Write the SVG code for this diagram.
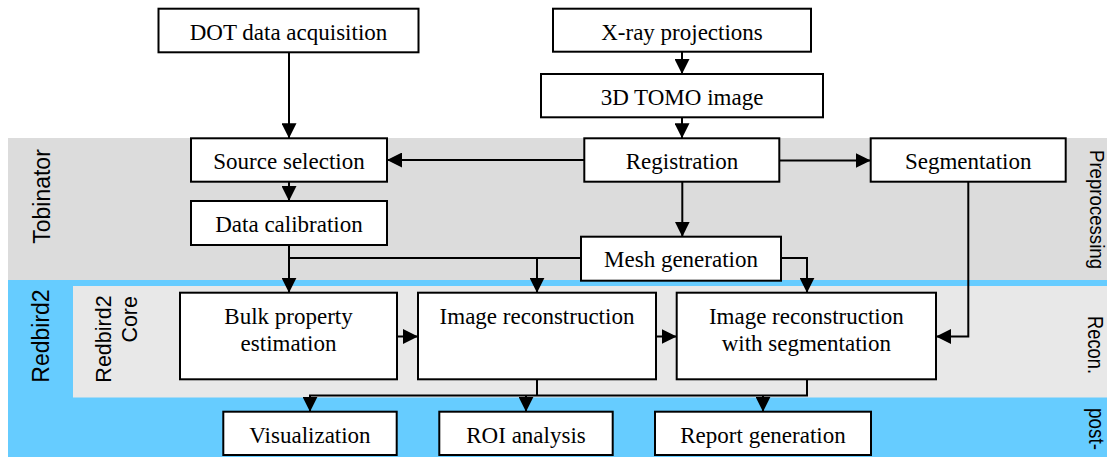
<svg xmlns="http://www.w3.org/2000/svg" width="1107" height="457" viewBox="0 0 1107 457">
<style>
.box{fill:#fff;stroke:#000;stroke-width:2}
.t{font-family:"Liberation Serif","Times New Roman",serif;font-size:23px;fill:#000;text-anchor:middle}
.lab{font-family:"Liberation Sans",Arial,sans-serif;fill:#000}
.c{fill:none;stroke:#000;stroke-width:2}
</style>
<defs>
<marker id="ah" viewBox="0 0 10 10" refX="10" refY="5" markerWidth="7.5" markerHeight="7.5" markerUnits="strokeWidth" orient="auto">
<path d="M0,0 L10,5 L0,10 Z" fill="#000"/>
</marker>
</defs>
<g id="bands">
<rect x="8" y="138" width="1099" height="142" fill="#dcdcdc"/>
<rect x="8" y="280" width="1099" height="177" fill="#66ccff"/>
<rect x="73" y="286" width="1034" height="111.5" fill="#e8e8e8"/>
</g>
<g id="band-labels" class="lab">
<text transform="translate(49.5,196.5) rotate(-90)" font-size="23" text-anchor="middle">Tobinator</text>
<text transform="translate(49.3,336) rotate(-90)" font-size="23" text-anchor="middle">Redbird2</text>
<text transform="translate(111,339) rotate(-90)" font-size="21.5" text-anchor="middle">Redbird2</text>
<text transform="translate(137,296) rotate(-90)" font-size="21.5" text-anchor="end">Core</text>
<text transform="translate(1090,150) rotate(90)" font-size="21" textLength="119" lengthAdjust="spacingAndGlyphs">Preprocessing</text>
<text transform="translate(1088,316) rotate(90)" font-size="22" textLength="58" lengthAdjust="spacingAndGlyphs">Recon.</text>
<text transform="translate(1089,408) rotate(90)" font-size="22" textLength="42" lengthAdjust="spacingAndGlyphs">post-</text>
</g>
<g id="connectors">
<path class="c" d="M289,52.3 V138.3" marker-end="url(#ah)"/>
<path class="c" d="M682,51.7 V74" marker-end="url(#ah)"/>
<path class="c" d="M682,117.3 V138.3" marker-end="url(#ah)"/>
<path class="c" d="M584.3,160 H387" marker-end="url(#ah)"/>
<path class="c" d="M779.3,160.5 H870.7" marker-end="url(#ah)"/>
<path class="c" d="M682.3,181.7 V236.7" marker-end="url(#ah)"/>
<path class="c" d="M289,181.7 V201" marker-end="url(#ah)"/>
<path class="c" d="M289,245 V292.7" marker-end="url(#ah)"/>
<path class="c" d="M581,258 H289"/>
<path class="c" d="M537,258 V292.7" marker-end="url(#ah)"/>
<path class="c" d="M781,258 H807 V292.7" marker-end="url(#ah)"/>
<path class="c" d="M968.3,181.7 V336.5 H936" marker-end="url(#ah)"/>
<path class="c" d="M397,336.5 H418" marker-end="url(#ah)"/>
<path class="c" d="M656,336.5 H676.7" marker-end="url(#ah)"/>
<path class="c" d="M537,379.3 V395.5"/>
<path class="c" d="M807,379.3 V395.5 H310 V411.7" marker-end="url(#ah)"/>
<path class="c" d="M526,395.5 V411.7" marker-end="url(#ah)"/>
<path class="c" d="M763,395.5 V411.7" marker-end="url(#ah)"/>
</g>
<g id="dot"><rect class="box" x="158.5" y="8.7" width="260" height="43.6"/><text class="t" x="288.5" y="40">DOT data acquisition</text></g>
<g id="xray"><rect class="box" x="553" y="8.7" width="258" height="43"/><text class="t" x="682" y="39.5">X-ray projections</text></g>
<g id="tomo"><rect class="box" x="541" y="74" width="282" height="43.3"/><text class="t" x="682" y="104.5">3D TOMO image</text></g>
<g id="source"><rect class="box" x="191" y="138.3" width="196" height="43.4"/><text class="t" x="289" y="168.5">Source selection</text></g>
<g id="registration"><rect class="box" x="584.3" y="138.3" width="195" height="43.4"/><text class="t" x="682" y="168.5">Registration</text></g>
<g id="segmentation"><rect class="box" x="870.7" y="138.3" width="195" height="43.4"/><text class="t" x="968.2" y="168.5">Segmentation</text></g>
<g id="calibration"><rect class="box" x="191" y="201" width="196" height="44"/><text class="t" x="289" y="232">Data calibration</text></g>
<g id="mesh"><rect class="box" x="581" y="236.7" width="200" height="44"/><text class="t" x="681" y="267.3">Mesh generation</text></g>
<g id="bulk"><rect class="box" x="180" y="292.7" width="217" height="86.6"/><text class="t" x="288.5" y="324">Bulk property</text><text class="t" x="288.5" y="350.7">estimation</text></g>
<g id="imgrec"><rect class="box" x="418" y="292.7" width="238" height="86.6"/><text class="t" x="537" y="324">Image reconstruction</text></g>
<g id="imgrecseg"><rect class="box" x="676.7" y="292.7" width="259.3" height="86.6"/><text class="t" x="806.3" y="324">Image reconstruction</text><text class="t" x="806.3" y="350.7">with segmentation</text></g>
<g id="visualization"><rect class="box" x="223.3" y="411.7" width="173.4" height="43.3"/><text class="t" x="310" y="443">Visualization</text></g>
<g id="roi"><rect class="box" x="439.3" y="411.7" width="173.4" height="43.3"/><text class="t" x="526" y="443">ROI analysis</text></g>
<g id="report"><rect class="box" x="655" y="411.7" width="216" height="43.3"/><text class="t" x="763" y="443">Report generation</text></g>
</svg>
